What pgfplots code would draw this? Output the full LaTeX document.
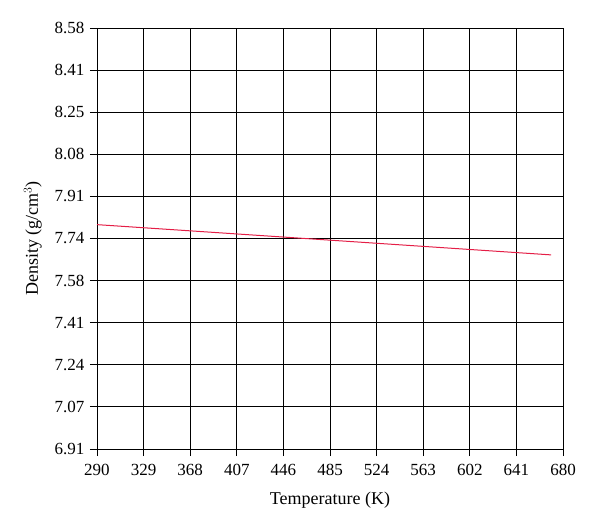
\documentclass[border=0pt]{standalone}
\usepackage{fontspec}
\setmainfont{Liberation Serif}
\usepackage{pgfplots}
\pgfplotsset{compat=1.18}
\definecolor{linered}{RGB}{228,30,70}
\begin{document}
\begin{tikzpicture}
\path[use as bounding box] (-97pt,-82pt) rectangle (503pt,449pt);
\begin{axis}[
  at={(0,0)}, anchor=origin,
  scale only axis, width=466pt, height=421pt,
  xmin=290, xmax=680, ymin=6.91, ymax=8.58,
  xtick={290,329,368,407,446,485,524,563,602,641,680},
  ytick={6.91,7.077,7.244,7.411,7.578,7.745,7.912,8.079,8.246,8.413,8.58},
  yticklabels={6.91,7.07,7.24,7.41,7.58,7.74,7.91,8.08,8.25,8.41,8.58},
  grid=major,
  grid style={black, line width=0.9pt},
  axis line style={black, line width=0.9pt},
  tick style={black, line width=0.9pt},
  tick align=outside, tick pos=left,
  major tick length=7pt,
  /pgf/number format/assume math mode=true,
  every tick label/.append style={font=\fontsize{17}{19}\selectfont},
  xlabel={Temperature (K)},
  ylabel={Density (g/cm$^3$)},
  every axis x label/.append style={font=\fontsize{18}{20}\selectfont, yshift=-9pt},
  every axis y label/.append style={font=\fontsize{18}{20}\selectfont, yshift=6pt},
  xticklabel style={yshift=-5pt},
  yticklabel style={xshift=-2pt},
]
\addplot[linered, line width=1pt] coordinates {(290,7.800) (670,7.680)};
\end{axis}
\end{tikzpicture}
\end{document}
